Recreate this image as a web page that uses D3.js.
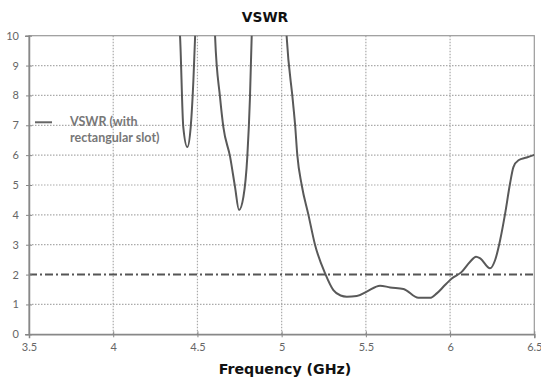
<!DOCTYPE html>
<html>
<head>
<meta charset="utf-8">
<script src="https://cdn.jsdelivr.net/npm/d3@7"></script>
<style>
  html, body { margin: 0; padding: 0; background: #fff; }
  svg { display: block; }
</style>
</head>
<body>
<div id="chart"></div>
<script>
// ---- data ----
const title = "VSWR";
const xLabel = "Frequency (GHz)";
const seriesName = ["VSWR (with", "rectangular slot)"];
const xTicks = [3.5, 4, 4.5, 5, 5.5, 6, 6.5];
const yTicks = [0, 1, 2, 3, 4, 5, 6, 7, 8, 9, 10];
const refLevel = 2;
const freq = [4.38, 4.397, 4.416, 4.44, 4.46, 4.476, 4.486, 4.495,
  4.6, 4.605, 4.634, 4.654, 4.694, 4.723, 4.747, 4.773, 4.796, 4.812, 4.822, 4.83,
  5.02, 5.03, 5.066, 5.08, 5.093, 5.119, 5.159, 5.198, 5.258, 5.307, 5.35, 5.387, 5.446,
  5.505, 5.584, 5.644, 5.723, 5.812, 5.881, 5.921, 5.97, 6.01, 6.069, 6.119,
  6.154, 6.179, 6.237, 6.267, 6.297, 6.327, 6.356, 6.376, 6.406, 6.455, 6.5];
const vswr = [11, 9.95, 6.94, 6.27, 6.94, 8.5, 9.95, 11,
  11, 9.95, 7.95, 6.94, 5.94, 4.94, 4.16, 4.6, 5.94, 7.95, 9.95, 11,
  11, 9.95, 7.84, 7.0, 6.0, 5.0, 4.0, 3.0, 2.04, 1.48, 1.3, 1.26, 1.28,
  1.43, 1.63, 1.57, 1.52, 1.22, 1.22, 1.37, 1.65, 1.87, 2.09, 2.43,
  2.6, 2.54, 2.21, 2.48, 3.15, 4.05, 5.05, 5.6, 5.83, 5.92, 6.01];

// ---- layout ----
const W = 541, H = 380;
const m = { left: 29, right: 6.7, top: 35.7, bottom: 45.7 };
const iw = W - m.left - m.right, ih = H - m.top - m.bottom;

const svg = d3.select("#chart").append("svg").attr("width", W).attr("height", H);
const g = svg.append("g").attr("transform", `translate(${m.left},${m.top})`);

const x = d3.scaleLinear().domain([3.5, 6.5]).range([0, iw]);
const y = d3.scaleLinear().domain([0, 10]).range([ih, 0]);

const gridCol = "#aaa";
// horizontal grid
g.selectAll(".hg").data(yTicks.filter(v => v !== 0 && v !== 10 && v !== refLevel)).enter()
  .append("line").attr("x1", 0).attr("x2", iw)
  .attr("y1", d => y(d)).attr("y2", d => y(d))
  .attr("stroke", gridCol).attr("stroke-width", 1.2).attr("stroke-dasharray", "1.5,1.5");
// vertical grid
g.selectAll(".vg").data(xTicks.filter(v => v !== 3.5 && v !== 6.5)).enter()
  .append("line").attr("y1", 0).attr("y2", ih)
  .attr("x1", d => x(d)).attr("x2", d => x(d))
  .attr("stroke", gridCol).attr("stroke-width", 1.2).attr("stroke-dasharray", "1.5,1.5");

// frame
g.append("rect").attr("x", 0).attr("y", 0).attr("width", iw).attr("height", ih)
  .attr("fill", "none").attr("stroke", "#999").attr("stroke-width", 1.2);

// reference line at 2
g.append("line").attr("x1", 0).attr("x2", iw).attr("y1", y(refLevel)).attr("y2", y(refLevel))
  .attr("stroke", "#555").attr("stroke-width", 2).attr("stroke-dasharray", "8,3,2,3");

// axes
const xAxis = d3.axisBottom(x).tickValues(xTicks).tickSize(4).tickFormat(d => d);
const gx = g.append("g").attr("transform", `translate(0,${ih})`).call(xAxis);
gx.select(".domain").attr("stroke", "#888").attr("stroke-width", 1.5);
gx.selectAll(".tick line").attr("stroke", "#888").attr("y1", -3).attr("y2", 3);
gx.selectAll(".tick text").attr("fill", "#666").attr("font-family", "Lato, 'Open Sans', sans-serif")
  .attr("font-size", 11).attr("dy", "0.71em").attr("y", 9);

const yAxis = d3.axisLeft(y).tickValues(yTicks).tickSize(4);
const gy = g.append("g").call(yAxis);
gy.select(".domain").attr("stroke", "#888").attr("stroke-width", 1.5);
gy.selectAll(".tick line").attr("stroke", "#888").attr("x1", -3).attr("x2", 3);
gy.selectAll(".tick text").attr("fill", "#666").attr("font-family", "Lato, 'Open Sans', sans-serif")
  .attr("font-size", 11).attr("x", -10);

// clip
svg.append("clipPath").attr("id", "clip").append("rect")
  .attr("x", 0).attr("y", 0).attr("width", iw).attr("height", ih);

const pts = freq.map((f, i) => [f, vswr[i]]);
const line = d3.line().x(d => x(d[0])).y(d => y(d[1])).curve(d3.curveMonotoneX);
g.append("path").datum(pts).attr("clip-path", "url(#clip)")
  .attr("d", line).attr("fill", "none").attr("stroke", "#595959").attr("stroke-width", 2);

// legend
const lg = g.append("g").attr("transform", `translate(0,${y(7) - 3})`);
lg.append("line").attr("x1", 6).attr("x2", 23).attr("y1", 0).attr("y2", 0)
  .attr("stroke", "#666").attr("stroke-width", 2);
lg.selectAll("text").data(seriesName).enter().append("text")
  .attr("x", 41).attr("y", (d, i) => 4 + i * 16)
  .attr("fill", "#777").attr("font-family", "Lato, 'Open Sans', sans-serif")
  .attr("font-weight", "bold").attr("font-size", 12.5).text(d => d);

// title
svg.append("text").attr("x", 265).attr("y", 22).attr("text-anchor", "middle")
  .attr("font-family", "'DejaVu Sans', Verdana, sans-serif").attr("font-weight", "bold")
  .attr("font-size", 13.8).attr("fill", "#111").text(title);

// x label
svg.append("text").attr("x", 285).attr("y", 374).attr("text-anchor", "middle")
  .attr("font-family", "'DejaVu Sans', Verdana, sans-serif").attr("font-weight", "bold")
  .attr("font-size", 14.2).attr("fill", "#111").text(xLabel);
</script>
</body>
</html>
